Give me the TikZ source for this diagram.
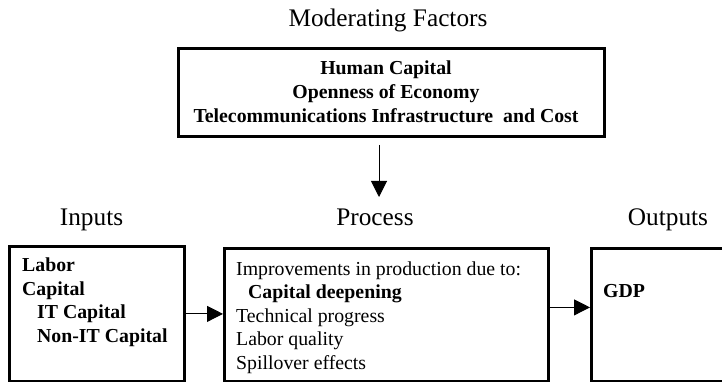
\documentclass[tikz,border=0pt]{standalone}
\usepackage{fontspec}
\setmainfont{Liberation Serif}
\usetikzlibrary{arrows.meta}
\begin{document}
\begin{tikzpicture}[x=1pt,y=-1pt,
  box/.style={draw=black, line width=2.8pt, rectangle, inner sep=0pt, anchor=north west},
  heading/.style={anchor=base, inner sep=0pt, font=\fontsize{25.3}{30}\selectfont},
  boxtext/.style={anchor=north west, inner sep=0pt, align=left, font=\fontsize{19.8}{23.5}\selectfont},
  flow/.style={line width=1pt, -{Triangle[length=16pt,width=16pt]}}]
\useasboundingbox (0,0) rectangle (722,382);

% moderating factors
\node[heading] (modtitle) at (388,27) {Moderating Factors};
\node[box, minimum width=426pt, minimum height=88pt] (mod) at (177,47) {};
\node[anchor=north, inner sep=0pt, align=center, font=\bfseries\fontsize{19.8}{24}\selectfont] (modtext) at (386,60.5)
  {Human Capital\\Openness of Economy\\Telecommunications Infrastructure~ and Cost};
\coordinate (modend) at (379,197);

% column headings
\node[heading] (intitle) at (91.5,225) {Inputs};
\node[heading] (proctitle) at (375,225) {Process};
\node[heading] (outtitle) at (668,225) {Outputs};

% boxes
\node[box, minimum width=175pt, minimum height=135pt] (inputs) at (8,245) {};
\node[box, minimum width=324pt, minimum height=133pt] (process) at (223,247) {};
\node[box, minimum width=150pt, minimum height=133pt] (outputs) at (590,247) {};

% box contents
\node[boxtext, font=\bfseries\fontsize{19.8}{23.6}\selectfont] (intext) at (22,257.5)
  {Labor\\Capital\\\hspace*{15pt}IT Capital\\\hspace*{15pt}Non-IT Capital};
\node[boxtext] (proctext) at (236,261.5)
  {Improvements in production due to:\\\hspace*{12pt}\textbf{Capital deepening}\\Technical progress\\Labor quality\\Spillover effects};
\node[anchor=base west, inner sep=0pt, font=\bfseries\fontsize{19.8}{23.5}\selectfont] (gdp) at (603,297) {GDP};

% connectors
\draw[flow] (mod.south -| modend) ++(0,7) -- (modend);
\draw[flow] (inputs.east) -- (inputs.east -| process.west);
\draw[flow] ([yshift=7.5pt]process.east) -- ([yshift=7.5pt]process.east -| outputs.west);
\end{tikzpicture}
\end{document}
